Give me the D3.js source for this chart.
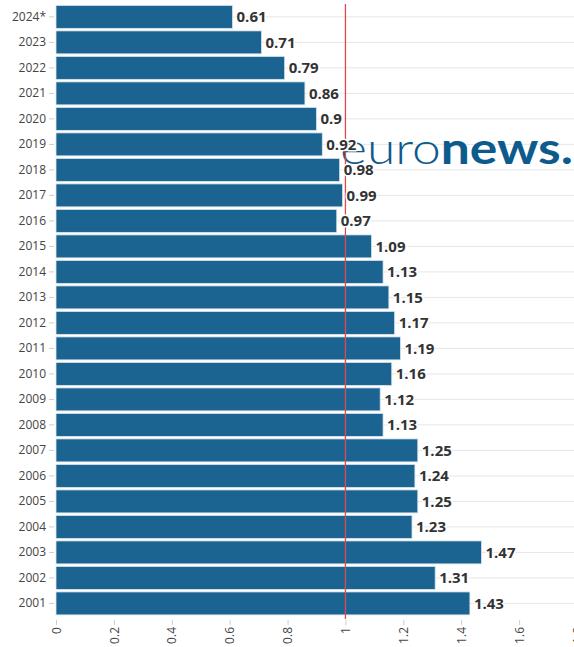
<!DOCTYPE html>
<html>
<head>
<meta charset="utf-8">
<script src="https://cdn.jsdelivr.net/npm/d3@7"></script>
<style>
  html, body { margin: 0; padding: 0; background: #fff; }
  svg { display: block; }
</style>
</head>
<body>
<svg id="chart" width="574" height="647"></svg>
<script>
// Yearly values, newest first (top to bottom)
const years = ["2024*", "2023", "2022", "2021", "2020", "2019", "2018", "2017", "2016", "2015",
  "2014", "2013", "2012", "2011", "2010", "2009", "2008", "2007", "2006", "2005",
  "2004", "2003", "2002", "2001"];
const values = [0.61, 0.71, 0.79, 0.86, 0.9, 0.92, 0.98, 0.99, 0.97, 1.09,
  1.13, 1.15, 1.17, 1.19, 1.16, 1.12, 1.13, 1.25, 1.24, 1.25,
  1.23, 1.47, 1.31, 1.43];
const xTicks = [0, 0.2, 0.4, 0.6, 0.8, 1, 1.2, 1.4, 1.6, 1.8];
const referenceValue = 1;

const data = years.map((y, i) => ({ year: y, value: values[i] }));

const svg = d3.select("#chart");
const W = 574;
const plotTop = 4, plotBottom = 619, plotLeft = 56;

const x = d3.scaleLinear().domain([0, 1.8]).range([plotLeft, 577]);
const y = d3.scaleBand().domain(years).range([plotTop, 616.3]).paddingInner(0.1).paddingOuter(0.055);

const font = "'Open Sans', 'Noto Sans', sans-serif";

// horizontal gridlines through each category
svg.append("g").selectAll("line").data(years).join("line")
  .attr("x1", plotLeft).attr("x2", W)
  .attr("y1", d => y(d) + y.bandwidth() / 2)
  .attr("y2", d => y(d) + y.bandwidth() / 2)
  .attr("stroke", "#e6e6e6").attr("stroke-width", 1);

// bars
svg.append("g").selectAll("rect").data(data).join("rect")
  .attr("x", x(0))
  .attr("y", d => y(d.year))
  .attr("width", d => x(d.value) - x(0))
  .attr("height", y.bandwidth())
  .attr("fill", "#1b6391")
  .attr("stroke", "#d9e4ec").attr("stroke-width", 0.8);

// logo watermark: light "euro", bold "news."
const logo = svg.append("text")
  .attr("x", 340).attr("y", 164)
  .attr("font-family", "Lato, 'Open Sans', sans-serif")
  .attr("font-size", 43)
  .attr("fill", "#0d5b8c")
  .attr("textLength", 233)
  .attr("lengthAdjust", "spacingAndGlyphs");
logo.append("tspan").attr("font-weight", 300).text("euro");
logo.append("tspan").attr("font-weight", 700).text("news.");

// reference line
svg.append("line")
  .attr("x1", x(referenceValue)).attr("x2", x(referenceValue))
  .attr("y1", plotTop).attr("y2", plotBottom)
  .attr("stroke", "#e0484c").attr("stroke-width", 1.3);

// value labels with white halo
svg.append("g").selectAll("text").data(data).join("text")
  .attr("x", d => x(d.value) + 4)
  .attr("y", d => y(d.year) + y.bandwidth() / 2)
  .attr("dy", "0.36em")
  .attr("font-family", font)
  .attr("font-size", 15)
  .attr("font-weight", 700)
  .attr("fill", "#333")
  .attr("stroke", "#fff").attr("stroke-width", 3)
  .attr("stroke-linejoin", "round")
  .attr("paint-order", "stroke")
  .text(d => d.value);

// y axis
const yAxis = svg.append("g")
  .attr("transform", `translate(${plotLeft - 2},0)`)
  .call(d3.axisLeft(y).tickSize(5).tickPadding(3));
yAxis.select(".domain").remove();
yAxis.selectAll(".tick line").attr("stroke", "#ccc");
yAxis.selectAll(".tick text")
  .attr("font-family", font).attr("font-size", 12).attr("fill", "#444");

// x axis
const xAxis = svg.append("g")
  .attr("transform", `translate(0,${plotBottom + 1})`)
  .call(d3.axisBottom(x).tickValues(xTicks).tickSize(5).tickFormat(d3.format("~g")));
xAxis.select(".domain").remove();
xAxis.selectAll(".tick line").attr("stroke", "#ccc");
xAxis.selectAll(".tick text")
  .attr("font-family", font).attr("font-size", 12).attr("fill", "#444")
  .attr("text-anchor", "end")
  .attr("transform", "rotate(-90)")
  .attr("x", -7).attr("y", 0).attr("dy", "0.35em");
</script>
</body>
</html>
